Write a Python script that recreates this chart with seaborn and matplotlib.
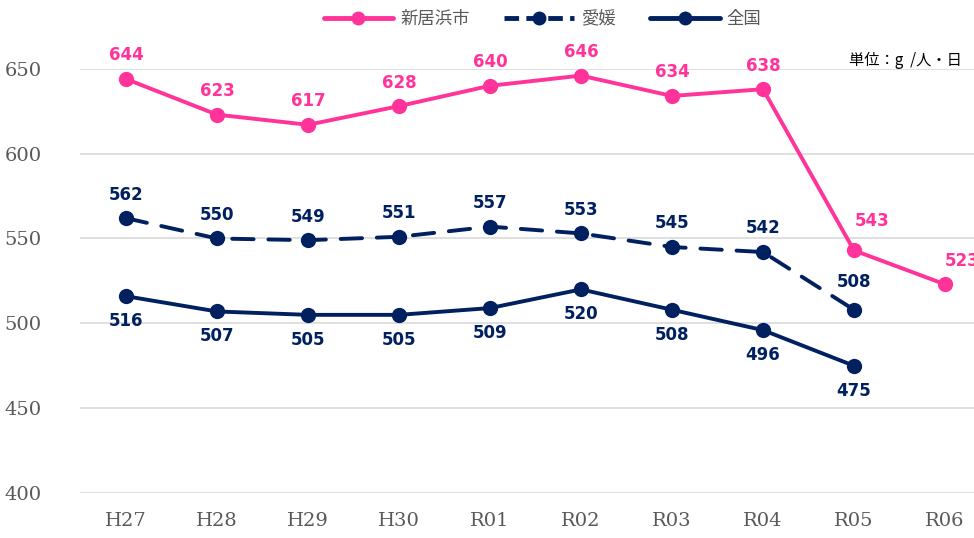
import matplotlib.pyplot as plt
import pandas as pd
import seaborn as sns
from matplotlib.lines import Line2D

years = ["H27", "H28", "H29", "H30", "R01", "R02", "R03", "R04", "R05", "R06"]
niihama = [644, 623, 617, 628, 640, 646, 634, 638, 543, 523]
ehime = [562, 550, 549, 551, 557, 553, 545, 542, 508, None]
national = [516, 507, 505, 505, 509, 520, 508, 496, 475, None]

series_names = ["新居浜市", "愛媛", "全国"]
PINK = "#FF3399"
NAVY = "#002060"
GREY = "#595959"

sns.set_theme(style="white")
plt.rcParams["font.family"] = ["Noto Sans CJK JP", "DejaVu Sans"]

fig = plt.figure(figsize=(9.74, 5.38), dpi=100)
ax = fig.add_axes([0.0826, 0.0836, 0.9343, 0.7885])

styles = {
    "新居浜市": dict(values=niihama, color=PINK, dashes=None, offset=(0, 17)),
    "愛媛": dict(values=ehime, color=NAVY, dashes=(5.5, 3.8), offset=(0, 17)),
    "全国": dict(values=national, color=NAVY, dashes=None, offset=(0, -18)),
}
# label positions that the source nudged
label_nudge = {("新居浜市", "R05"): (13, 21), ("新居浜市", "R06"): (12, 17),
               ("愛媛", "R05"): (0, 20)}

for name in series_names:
    st = styles[name]
    df = pd.DataFrame({"year": years, "value": st["values"]}).dropna()
    sns.lineplot(data=df, x="year", y="value", ax=ax, color=st["color"],
                 linewidth=2.8, marker="o", markersize=11, markeredgewidth=0,
                 sort=False, zorder=3, clip_on=False)
    if st["dashes"]:
        ax.lines[-1].set_dashes(st["dashes"])
        ax.lines[-1].set_dash_capstyle("round")
    for yr, v in zip(df["year"], df["value"]):
        ax.annotate(f"{int(v)}", (yr, v), xytext=label_nudge.get((name, yr), st["offset"]),
                    textcoords="offset points", ha="center", va="center",
                    fontsize=12, fontweight="bold", color=st["color"],
                    family="DejaVu Sans", annotation_clip=False)

ax.set_xlim(-0.5, len(years) - 0.5)
ax.set_ylim(400, 650)
ax.set_yticks([400, 450, 500, 550, 600, 650])
ax.yaxis.grid(True, color="#D9D9D9", linewidth=1.2)
ax.xaxis.grid(False)
for s in ax.spines.values():
    s.set_visible(False)
ax.set_xlabel("")
ax.set_ylabel("")
ax.tick_params(axis="both", length=0, labelsize=14, labelcolor=GREY)
ax.tick_params(axis="x", pad=14)
ax.tick_params(axis="y", pad=28)
for lab in ax.get_xticklabels() + ax.get_yticklabels():
    lab.set_family("DejaVu Serif")

handles = [
    Line2D([], [], color=PINK, linewidth=3.5, marker="o", markersize=9),
    Line2D([], [], color=NAVY, linewidth=3.5, marker="o", markersize=9, dashes=(3, 1.5)),
    Line2D([], [], color=NAVY, linewidth=3.5, marker="o", markersize=9),
]
leg = fig.legend(handles, series_names, loc="center", bbox_to_anchor=(0.557, 0.965),
                 ncol=3, frameon=False, fontsize=12.5, handlelength=4.0,
                 columnspacing=2.0, handletextpad=0.4)
for t in leg.get_texts():
    t.set_color(GREY)

fig.text(0.988, 0.887, "単位：g  /人・日", ha="right", va="center", fontsize=11, color="black")

fig.savefig("out.png", dpi=100)
